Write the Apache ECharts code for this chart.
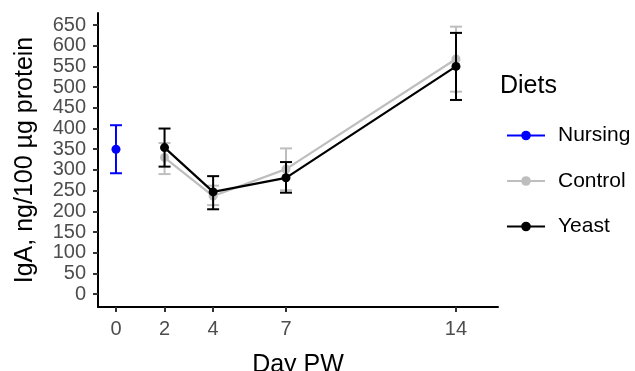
<!DOCTYPE html>
<html>
<head>
<meta charset="utf-8">
<script src="https://cdn.jsdelivr.net/npm/echarts@6/dist/echarts.min.js"></script>
<style>
  html, body { margin: 0; padding: 0; background: #fff; }
  #chart { width: 635px; height: 371px; }
</style>
</head>
<body>
<div id="chart"></div>
<script>
// data
var xTicks = [0, 2, 4, 7, 14];
var yTicks = [0, 50, 100, 150, 200, 250, 300, 350, 400, 450, 500, 550, 600, 650];

var nursingDays = [0];
var nursingMean = [350];
var nursingLow = [292];
var nursingHigh = [408];

var days = [2, 4, 7, 14];
var controlMean = [330, 237, 302, 568];
var controlLow = [290, 215, 251, 489];
var controlHigh = [365, 262, 352, 646];
var yeastMean = [354, 247, 281, 550];
var yeastLow = [308, 205, 245, 469];
var yeastHigh = [400, 285, 319, 631];

var font = 'Liberation Sans, Arial, sans-serif';

function pts(xs, ys) {
  return xs.map(function (x, i) { return [x, ys[i]]; });
}
function bars(xs, lo, hi) {
  return xs.map(function (x, i) { return [x, lo[i], hi[i]]; });
}

function errorBar(name, color, data, z) {
  return {
    name: name,
    type: 'custom',
    z: z,
    data: data,
    renderItem: function (params, api) {
      var x = api.value(0);
      var top = api.coord([x, api.value(2)]);
      var bot = api.coord([x, api.value(1)]);
      var hw = 6;
      var st = { stroke: color, lineWidth: 2 };
      return {
        type: 'group',
        children: [
          { type: 'line', shape: { x1: top[0], y1: top[1], x2: bot[0], y2: bot[1] }, style: st },
          { type: 'line', shape: { x1: top[0] - hw, y1: top[1], x2: top[0] + hw, y2: top[1] }, style: st },
          { type: 'line', shape: { x1: bot[0] - hw, y1: bot[1], x2: bot[0] + hw, y2: bot[1] }, style: st }
        ]
      };
    }
  };
}

function lineSeries(name, color, data, z) {
  return {
    name: name,
    type: 'line',
    z: z,
    data: data,
    symbol: 'circle',
    symbolSize: 9,
    showSymbol: true,
    itemStyle: { color: color },
    lineStyle: { color: color, width: 2.2 },
    emphasis: { disabled: true }
  };
}

var chart = echarts.init(document.getElementById('chart'));
chart.setOption({
  animation: false,
  title: {
    text: 'Diets',
    left: 495,
    top: 69,
    textStyle: { fontFamily: font, fontSize: 25, fontWeight: 'normal', color: '#000' }
  },
  legend: {
    data: ['Nursing', 'Control', 'Yeast'],
    orient: 'vertical',
    left: 501,
    top: 120,
    itemWidth: 38,
    itemHeight: 12,
    itemGap: 24.5,
    textStyle: { fontFamily: font, fontSize: 21, color: '#000', padding: [0, 0, 0, 8] },
    selectedMode: false
  },
  grid: { left: 98, top: 13, right: 137, bottom: 64, outerBoundsMode: 'none', containLabel: false },
  xAxis: {
    type: 'value',
    min: -0.74,
    max: 15.73,
    name: 'Day PW',
    nameLocation: 'middle',
    nameGap: 46,
    nameTextStyle: { fontFamily: font, fontSize: 25, color: '#000' },
    splitLine: { show: false },
    axisLine: { onZero: false, lineStyle: { color: '#000', width: 2 } },
    axisTick: { show: true, length: 5, customValues: xTicks, lineStyle: { color: '#333', width: 2 } },
    axisLabel: { customValues: xTicks, fontFamily: font, fontSize: 20, color: '#4D4D4D', margin: 12 }
  },
  yAxis: {
    type: 'value',
    min: -31,
    max: 679,
    name: 'IgA, ng/100 µg protein',
    nameLocation: 'middle',
    nameGap: 60,
    nameTextStyle: { fontFamily: font, fontSize: 25, color: '#000' },
    splitLine: { show: false },
    axisLine: { show: true, onZero: false, lineStyle: { color: '#000', width: 2 } },
    axisTick: { show: true, length: 5, customValues: yTicks, lineStyle: { color: '#333', width: 2 } },
    axisLabel: { customValues: yTicks, fontFamily: font, fontSize: 20, color: '#4D4D4D', margin: 12 }
  },
  series: [
    errorBar('Control err', '#BEBEBE', bars(days, controlLow, controlHigh), 1),
    lineSeries('Control', '#BEBEBE', pts(days, controlMean), 2),
    errorBar('Yeast err', '#000000', bars(days, yeastLow, yeastHigh), 3),
    lineSeries('Yeast', '#000000', pts(days, yeastMean), 4),
    errorBar('Nursing err', '#0000FF', bars(nursingDays, nursingLow, nursingHigh), 5),
    lineSeries('Nursing', '#0000FF', pts(nursingDays, nursingMean), 6)
  ]
});
</script>
</body>
</html>
